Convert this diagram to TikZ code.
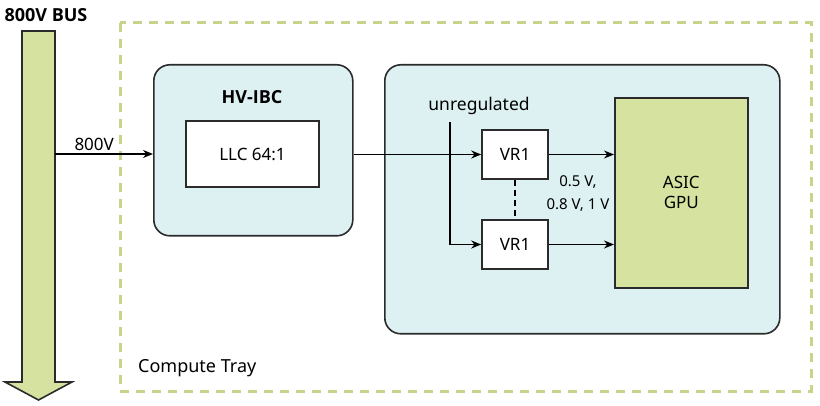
\documentclass[tikz,border=0pt]{standalone}
\usepackage{fontspec}
\setmainfont{Noto Sans}
\newfontfamily\headfont{Open Sans}
\usetikzlibrary{arrows.meta}
\definecolor{cyanfill}{HTML}{DDF1F3}
\definecolor{greenfill}{HTML}{D6E3A0}
\definecolor{dashgreen}{HTML}{C5D68A}
\definecolor{edge}{HTML}{2B2B2B}
\begin{document}
\begin{tikzpicture}[x=1pt,y=-1pt,
  every node/.style={font=\fontsize{17}{20}\selectfont, text=black},
  head/.style={font=\headfont\fontsize{18}{21}\selectfont\bfseries, inner sep=0pt},
  panel/.style={draw=edge, line width=1.6pt, fill=cyanfill, rounded corners=16pt},
  whitebox/.style={draw=edge, line width=1.6pt, fill=white},
  conn/.style={draw=black, line width=1.5pt, -{Stealth[length=10pt,width=8pt]}},
  plain/.style={draw=black, line width=1.5pt}]
\useasboundingbox (0,0) rectangle (820,406);
% dashed compute tray
\draw[dashgreen, line width=3pt, dash pattern=on 9pt off 7pt] (120,23) rectangle (811,391);
\node[anchor=south west, inner sep=0pt, font=\fontsize{18}{21}\selectfont] (tray) at (138,377) {Compute Tray};
% bus arrow
\draw[draw=edge, line width=1.6pt, fill=greenfill, line join=miter]
  (22,31) -- (55,31) -- (55,382) -- (72,382) -- (38.5,400) -- (5,382) -- (22,382) -- cycle;
\coordinate (bus) at (55,154);
\node[head] (bustitle) at (46,15) {800V BUS};
% HV-IBC
\node[panel, minimum width=199pt, minimum height=171pt, anchor=north west] (ibc) at (153,64) {};
\node[head] (ibct) at (252,97) {HV-IBC};
\node[whitebox, minimum width=133pt, minimum height=66pt] (llc) at (252.5,154) {LLC 64:1};
% right panel
\node[panel, minimum width=395pt, minimum height=269pt, anchor=north west] (vrp) at (384,64) {};
\node[draw=edge, line width=1.6pt, fill=greenfill, minimum width=133pt, minimum height=190pt, anchor=north west, align=center] (asic) at (614,97) {ASIC\\GPU};
\node[whitebox, minimum width=66pt, minimum height=49pt] (vra) at (515,154.5) {VR1};
\node[whitebox, minimum width=66pt, minimum height=49pt] (vrb) at (515,244.5) {VR1};
\node[inner sep=0pt, font=\fontsize{17.5}{20}\selectfont] (unreg) at (479,106) {unregulated};
\node[align=center, inner sep=0pt, font=\fontsize{15}{23}\selectfont] (volts) at (578,194) {0.5 V,\\0.8 V, 1 V};
% connectors
\draw[conn] (bus) -- node[above, pos=0.4, inner sep=3pt] (lbl800) {800V} (ibc.west |- bus);
\draw[conn] (ibc.east |- vra) -- (vra.west);
\coordinate (branch) at (450,122);
\draw[conn] (branch) |- (vrb.west);
\draw[conn] (vra.east) -- (asic.west |- vra);
\draw[conn] (vrb.east) -- (asic.west |- vrb);
\draw[plain, dash pattern=on 6pt off 4pt] (vra.south) -- (vrb.north);
\end{tikzpicture}
\end{document}
